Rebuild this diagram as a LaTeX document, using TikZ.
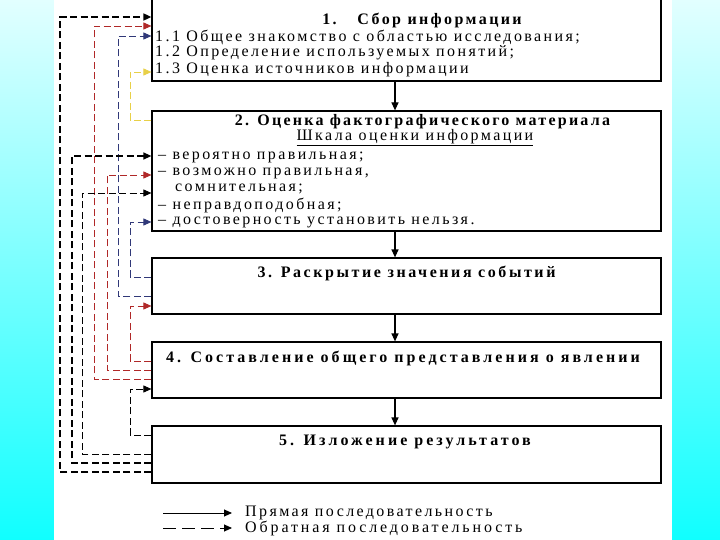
\documentclass[tikz,border=0pt]{standalone}
\usepackage{fontspec}
\setmainfont{Liberation Serif}[LetterSpace=15]
\usetikzlibrary{arrows.meta}
\definecolor{bgtop}{HTML}{E2FFFF}
\definecolor{bgbot}{HTML}{10FFFF}
\definecolor{fbred}{HTML}{B02828}
\definecolor{fbnavy}{HTML}{303878}
\definecolor{fbyellow}{HTML}{E8D048}
\begin{document}
\begin{tikzpicture}[x=1pt,y=-1pt,
  box/.style={draw, line width=1.2pt, inner sep=0, minimum width=509pt},
  fwd/.style={line width=1.2pt, -{Triangle[length=8pt,width=7pt]}},
  fb/.style={dash pattern=on 7pt off 3.5pt, line width=0.9pt, -{Triangle[length=8pt,width=7pt]}},
  ttl/.style={inner sep=0, font=\fontsize{16}{18}\selectfont\bfseries},
  itm/.style={inner sep=0, anchor=west, font=\fontsize{16}{18}\selectfont},
  ctr/.style={inner sep=0, font=\fontsize{16}{18}\selectfont}]
\useasboundingbox (0,0) rectangle (720,540);
\clip (0,0) rectangle (720,540);
\shade[top color=bgtop, bottom color=bgbot] (0,0) rectangle (720,540);
\fill[white] (54,0) rectangle (672,540);
% boxes
\node[box, minimum height=86pt] (b1) at (406.5,38) {};
\node[box, minimum height=120pt] (b2) at (406.5,171) {};
\node[box, minimum height=56pt] (b3) at (406.5,286) {};
\node[box, minimum height=56pt] (b4) at (406.5,370) {};
\node[box, minimum height=57pt] (b5) at (406.5,454.5) {};
% texts
\node[ttl] (h1) at (422,20) {1.\hspace{1.3em}Сбор информации};
\node[itm] (i11) at (155,37) {1.1 Общее знакомство с областью исследования;};
\node[itm] (i12) at (155,53) {1.2 Определение используемых понятий;};
\node[itm] (i13) at (155,70) {1.3 Оценка источников информации};
\node[ttl] (h2) at (422.5,122) {\addfontfeatures{LetterSpace=14}2. Оценка фактографического материала};
\node[ctr] (s2) at (415,138) {\underline{Шкала оценки информации}};
\node[itm] (i21) at (158,157) {– вероятно правильная;};
\node[itm] (i22) at (158,173) {– возможно правильная,};
\node[itm] (i23) at (175,189) {сомнительная;};
\node[itm] (i24) at (158,205) {– неправдоподобная;};
\node[itm] (i25) at (158,222) {– достоверность установить нельзя.};
\node[ttl] (h3) at (406.5,273) {\addfontfeatures{LetterSpace=16}3. Раскрытие значения событий};
\node[ttl] (h4) at (403,358) {\addfontfeatures{LetterSpace=19}4. Составление общего представления о явлении};
\node[ttl] (h5) at (405,442) {\addfontfeatures{LetterSpace=19}5. Изложение результатов};
% forward arrows
\draw[fwd] (b1.south -| 395,0) -- (b2.north -| 395,0);
\draw[fwd] (b2.south -| 395,0) -- (b3.north -| 395,0);
\draw[fwd] (b3.south -| 395,0) -- (b4.north -| 395,0);
\draw[fwd] (b4.south -| 395,0) -- (b5.north -| 395,0);
% feedback arrows
\draw[fb, line width=1.6pt] (b5.west |- 0,472) -| (60,17) -- (b1.west |- 0,17);
\draw[fb, fbred] (b4.west |- 0,379) -| (94,26) -- (b1.west |- 0,26);
\draw[fb, fbnavy] (b3.west |- 0,296) -| (118,36) -- (b1.west |- 0,36);
\draw[fb, fbyellow] (b2.west |- 0,120) -| (130,72) -- (b1.west |- 0,72);
\draw[fb, line width=1.3pt] (b5.west |- 0,463) -| (72,156) -- (b2.west |- 0,156);
\draw[fb, fbred] (b4.west |- 0,370) -| (107,175) -- (b2.west |- 0,175);
\draw[fb] (b5.west |- 0,454) -| (82,193) -- (b2.west |- 0,193);
\draw[fb, fbnavy] (b3.west |- 0,277) -| (130,222) -- (b2.west |- 0,222);
\draw[fb, fbred] (b4.west |- 0,361) -| (130,306) -- (b3.west |- 0,306);
\draw[fb] (b5.west |- 0,435) -| (130,389) -- (b4.west |- 0,389);
% legend
\coordinate (l1a) at (163,513);
\coordinate (l1b) at (232,513);
\coordinate (l2a) at (163,528);
\coordinate (l2b) at (232,528);
\draw[fwd, line width=0.9pt] (l1a) -- (l1b);
\draw[fb, dash pattern=on 13pt off 6pt] (l2a) -- (l2b);
\node[itm] (lg1) at (245,513) {Прямая последовательность};
\node[itm] (lg2) at (245,528) {\addfontfeatures{LetterSpace=18}Обратная последовательность};
\end{tikzpicture}
\end{document}
